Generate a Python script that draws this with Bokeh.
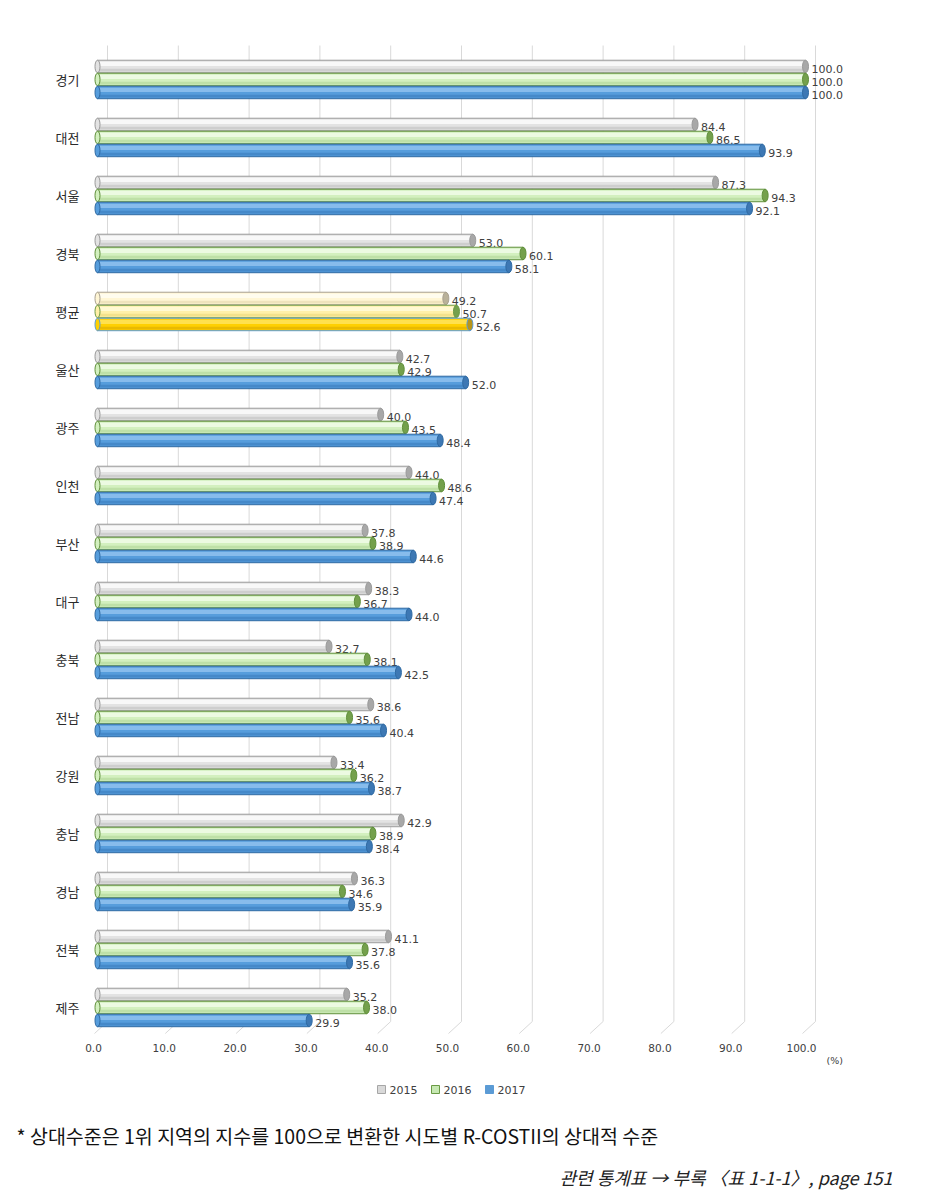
from bokeh.plotting import figure
from bokeh.models import ColumnDataSource, Range1d
from bokeh.core.properties import value
from bokeh.embed import file_html
from bokeh.resources import INLINE

regions = ["경기", "대전", "서울", "경북", "평균", "울산", "광주", "인천", "부산", "대구",
           "충북", "전남", "강원", "충남", "경남", "전북", "제주"]
v2015 = [100.0, 84.4, 87.3, 53.0, 49.2, 42.7, 40.0, 44.0, 37.8, 38.3, 32.7, 38.6, 33.4, 42.9, 36.3, 41.1, 35.2]
v2016 = [100.0, 86.5, 94.3, 60.1, 50.7, 42.9, 43.5, 48.6, 38.9, 36.7, 38.1, 35.6, 36.2, 38.9, 34.6, 37.8, 38.0]
v2017 = [100.0, 93.9, 92.1, 58.1, 52.6, 52.0, 48.4, 47.4, 44.6, 44.0, 42.5, 40.4, 38.7, 38.4, 35.9, 35.6, 29.9]
years = ["2015", "2016", "2017"]
x_ticks = [0, 10, 20, 30, 40, 50, 60, 70, 80, 90, 100]
unit_label = "(%)"
note = "* 상대수준은 1위 지역의 지수를 100으로 변환한 시도별 R-COSTII의 상대적 수준"
source_note = "관련 통계표 → 부록 〈표 1-1-1〉, page 151"

KFONT = "Noto Sans CJK KR"
NFONT = "DejaVu Sans"
W, H = 932, 1190
PXU = 7.08   # pixels per x unit
PXY = 58.0   # pixels per category
X0 = 97      # page x of value 0
Y0 = 40      # page y reference
OFF = 0      # page offset of the figure


def X(px):
    return (px - X0) / PXU


def Y(py):
    return (py - Y0) / PXY - 0.672


p = figure(width=W, height=H, output_backend="svg", toolbar_location=None,
           x_range=Range1d(X(OFF), X(OFF + W)), y_range=Range1d(Y(OFF + H), Y(OFF)),
           min_border=0)
p.outline_line_color = None
p.axis.visible = False
p.xgrid.visible = False
p.ygrid.visible = False

idx = list(range(len(regions)))

# 3D-like gridlines: back-wall vertical lines plus floor diagonals
back = [t + X(107) for t in x_ticks]
front = [t + X(94) for t in x_ticks]
n = len(x_ticks)
p.segment(x0=back, y0=[Y(45)] * n, x1=back, y1=[Y(1021)] * n, line_color="#d9d9d9", line_width=1)
p.segment(x0=back, y0=[Y(1021)] * n, x1=front, y1=[Y(1033)] * n, line_color="#d9d9d9", line_width=1)

# x tick labels
p.text(x=[t + X(93) for t in x_ticks], y=[Y(1047)] * n, text=[f"{t:.1f}" for t in x_ticks],
       text_align="center", text_baseline="middle", text_font=value(NFONT),
       text_font_size="10.5px", text_color="#404040")
p.text(x=[X(826)], y=[Y(1060)], text=[unit_label], text_align="left",
       text_baseline="middle", text_font=value(NFONT), text_font_size="9.5px", text_color="#404040")

# category labels
p.text(x=[X(79)] * len(idx), y=idx, text=regions, text_align="right", text_baseline="middle",
       text_font=value(KFONT), text_font_size="13px", text_color="#2a2a2a")

# series styles (normal rows, average row)
styles = {
    "2015": dict(fill="#e3e3e3", hi="#fcfcfc", lo="#c4c4c4", line="#9a9a9a", cap="#a8a8a8",
                 afill="#fff6d5", ahi="#fffdf2", alo="#e8dcb0", aline="#a8a090", acap="#b9b199"),
    "2016": dict(fill="#d3f0bf", hi="#f0fbe8", lo="#b5d99c", line="#5f8f3a", cap="#74a04c",
                 afill="#fff0a8", ahi="#fffadb", alo="#eedb80", aline="#6e9a45", acap="#74a04c"),
    "2017": dict(fill="#569ddc", hi="#8fc2ee", lo="#3f80c0", line="#2f6aa3", cap="#3d78b4",
                 afill="#ffd000", ahi="#ffe45a", alo="#e0b000", aline="#5b9bd5", acap="#b8951a"),
}
offsets = {"2015": -0.224, "2016": 0.0, "2017": 0.224}
vals = {"2015": v2015, "2016": v2016, "2017": v2017}
AVG = regions.index("평균")
bh = 12.5 / PXY

for yr in years:
    st = styles[yr]
    vv = vals[yr]
    ys = [i + offsets[yr] for i in idx]
    pick = lambda k: [st["a" + k] if i == AVG else st[k] for i in idx]
    src = ColumnDataSource(dict(y=ys, v=vv, fill=pick("fill"), hi=pick("hi"), lo=pick("lo"),
                                line=pick("line"), cap=pick("cap"),
                                yhi=[y - bh * 0.2 for y in ys], ylo=[y + bh * 0.3 for y in ys],
                                lbl=[f"{x:.1f}" for x in vv], ylbl=[y + 0.04 for y in ys]))
    p.hbar(y="y", left=0, right="v", height=bh, fill_color="fill", line_color="line",
           line_width=1, source=src)
    p.hbar(y="yhi", left=0.2, right="v", height=bh * 0.34, fill_color="hi", line_color=None,
           fill_alpha=0.85, source=src)
    p.hbar(y="ylo", left=0.2, right="v", height=bh * 0.22, fill_color="lo", line_color=None,
           fill_alpha=0.7, source=src)
    p.ellipse(x=0, y="y", width=5, height=12.5, width_units="screen", height_units="screen",
              fill_color="fill", line_color="line", line_width=1, source=src)
    p.ellipse(x="v", y="y", width=6, height=12.5, width_units="screen", height_units="screen",
              fill_color="cap", line_color="line", line_width=1, source=src)
    p.text(x="v", y="ylbl", text="lbl", source=src, x_offset=6, text_baseline="middle",
           text_align="left", text_font=value(NFONT), text_font_size="11px", text_color="#404040")

# legend (manual)
leg_fill = ["#d9d9d9", "#c6e8b2", "#5b9bd5"]
leg_line = ["#a6a6a6", "#6a9a45", "#5b9bd5"]
leg_x = [X(381), X(435), X(489)]
p.rect(x=leg_x, y=[Y(1089)] * 3, width=8, height=8, width_units="screen", height_units="screen",
       fill_color=leg_fill, line_color=leg_line, line_width=1)
p.text(x=[X(389), X(443), X(497)], y=[Y(1089)] * 3, text=years, text_align="left",
       text_baseline="middle", text_font=value(NFONT), text_font_size="11px", text_color="#404040")

# footnotes
p.text(x=[X(16)], y=[Y(1135)], text=[note], text_align="left", text_baseline="middle",
       text_font=value(KFONT), text_font_size="19.5px", text_color="#111111")
p.text(x=[X(892)], y=[Y(1176)], text=[source_note], text_align="right", text_baseline="middle",
       text_font=value(KFONT), text_font_style="italic", text_font_size="18px", text_color="#222222")

open("out.html", "w").write(file_html(p, INLINE))
